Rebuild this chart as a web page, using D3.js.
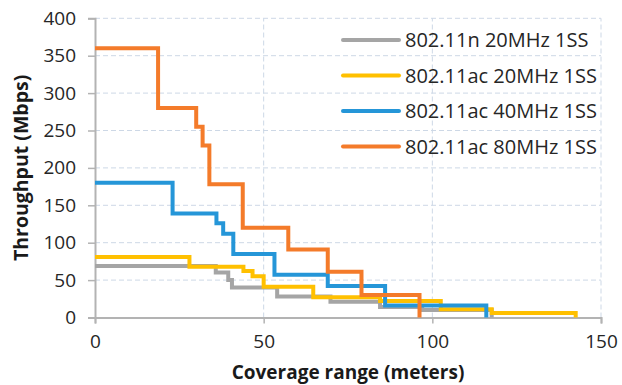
<!DOCTYPE html>
<html>
<head>
<meta charset="utf-8">
<script src="https://cdn.jsdelivr.net/npm/d3@7"></script>
<style>
  body { margin: 0; background: #fff; }
  svg text { font-family: "Open Sans", sans-serif; }
</style>
</head>
<body>
<svg id="chart" width="622" height="385"></svg>
<script>
const width = 622;
const height = 385;

// Dades llegides del gràfic (metres, Mbps) - corba esglaonada
const seriesNames = ["802.11n 20MHz 1SS", "802.11ac 20MHz 1SS", "802.11ac 40MHz 1SS", "802.11ac 80MHz 1SS"];
const seriesColors = ["#a5a5a5", "#ffc000", "#2596d8", "#f47b2a"];

const n20Dist = [0, 35.8, 39.5, 40.6, 54, 69.8, 84.5, 97, 117.6];
const n20Rate = [69, 60, 50, 40, 28, 21, 14, 10, 0];

const ac20Dist = [0, 28, 44, 46.7, 50, 64.7, 84.5, 102.5, 117.6, 142.5];
const ac20Rate = [81, 68, 62, 55, 41, 27, 22, 11, 6, 0];

const ac40Dist = [0, 23, 36, 38, 41, 53.2, 69, 86, 116];
const ac40Rate = [180, 139, 126, 112, 85, 57, 42, 16, 0];

const ac80Dist = [0, 18.7, 30, 31.9, 33.9, 43.8, 57.3, 69, 79, 96.2];
const ac80Rate = [360, 280, 255, 230, 178, 120, 91, 61, 30, 0];

const xTicks = [0, 50, 100, 150];
const yTicks = [0, 50, 100, 150, 200, 250, 300, 350, 400];

const allDist = [n20Dist, ac20Dist, ac40Dist, ac80Dist];
const allRate = [n20Rate, ac20Rate, ac40Rate, ac80Rate];

const margin = { top: 18.3, right: 21, bottom: 67.5, left: 95 };

const svg = d3.select("#chart");

const x = d3.scaleLinear().domain([0, 150]).range([margin.left, width - margin.right]);
const y = d3.scaleLinear().domain([0, 400]).range([height - margin.bottom, margin.top]);

// Graella discontínua
const grid = svg.append("g").attr("stroke", "#cdd8e6").attr("stroke-dasharray", "5,3").attr("stroke-width", 1);
grid.selectAll("line.h")
  .data(yTicks.filter(d => d > 0))
  .join("line")
  .attr("class", "h")
  .attr("x1", x(0)).attr("x2", x(150))
  .attr("y1", d => y(d)).attr("y2", d => y(d));
grid.selectAll("line.v")
  .data(xTicks.filter(d => d > 0))
  .join("line")
  .attr("class", "v")
  .attr("y1", y(0)).attr("y2", y(400))
  .attr("x1", d => x(d)).attr("x2", d => x(d));

// Eixos
const yAxis = svg.append("g")
  .attr("transform", `translate(${x(0)},0)`)
  .call(d3.axisLeft(y).tickValues(yTicks).tickSize(7).tickPadding(12));
const xAxis = svg.append("g")
  .attr("transform", `translate(0,${y(0)})`)
  .call(d3.axisBottom(x).tickValues(xTicks).tickSize(6).tickPadding(11));

[xAxis, yAxis].forEach(a => {
  a.select(".domain").attr("stroke", "#b3b3b3").attr("stroke-width", 2);
  a.selectAll(".tick line").attr("stroke", "#b3b3b3").attr("stroke-width", 1.5);
  a.selectAll(".tick text").attr("fill", "#262626").style("font-size", "19px");
});

// Línies esglaonades
const line = d3.line()
  .x(d => x(d[0]))
  .y(d => y(d[1]))
  .curve(d3.curveStepAfter);

svg.append("g")
  .selectAll("path")
  .data(allDist.map((dist, i) => dist.map((d, j) => [d, allRate[i][j]])))
  .join("path")
  .attr("d", line)
  .attr("fill", "none")
  .attr("stroke", (d, i) => seriesColors[i])
  .attr("stroke-width", 4)
  .attr("stroke-linejoin", "miter");

// Títols d'eixos
svg.append("text")
  .attr("x", (x(0) + x(150)) / 2)
  .attr("y", 379)
  .attr("text-anchor", "middle")
  .attr("fill", "#1a1a1a")
  .style("font-size", "19px")
  .style("font-weight", "bold")
  .text("Coverage range (meters)");

svg.append("text")
  .attr("transform", `translate(28,${(y(0) + y(400)) / 2}) rotate(-90)`)
  .attr("text-anchor", "middle")
  .attr("fill", "#1a1a1a")
  .style("font-size", "19.5px")
  .style("font-weight", "bold")
  .text("Throughput (Mbps)");

// Llegenda
const legend = svg.append("g");
const rows = legend.selectAll("g")
  .data(seriesNames)
  .join("g")
  .attr("transform", (d, i) => `translate(343,${40 + i * 35.5})`);
rows.append("line")
  .attr("x1", 0).attr("x2", 56)
  .attr("stroke", (d, i) => seriesColors[i])
  .attr("stroke-width", 4)
  .attr("stroke-linecap", "round");
rows.append("text")
  .attr("x", 62)
  .attr("dy", "0.35em")
  .attr("fill", "#262626")
  .style("font-size", "20px")
  .text(d => d);
</script>
</body>
</html>
